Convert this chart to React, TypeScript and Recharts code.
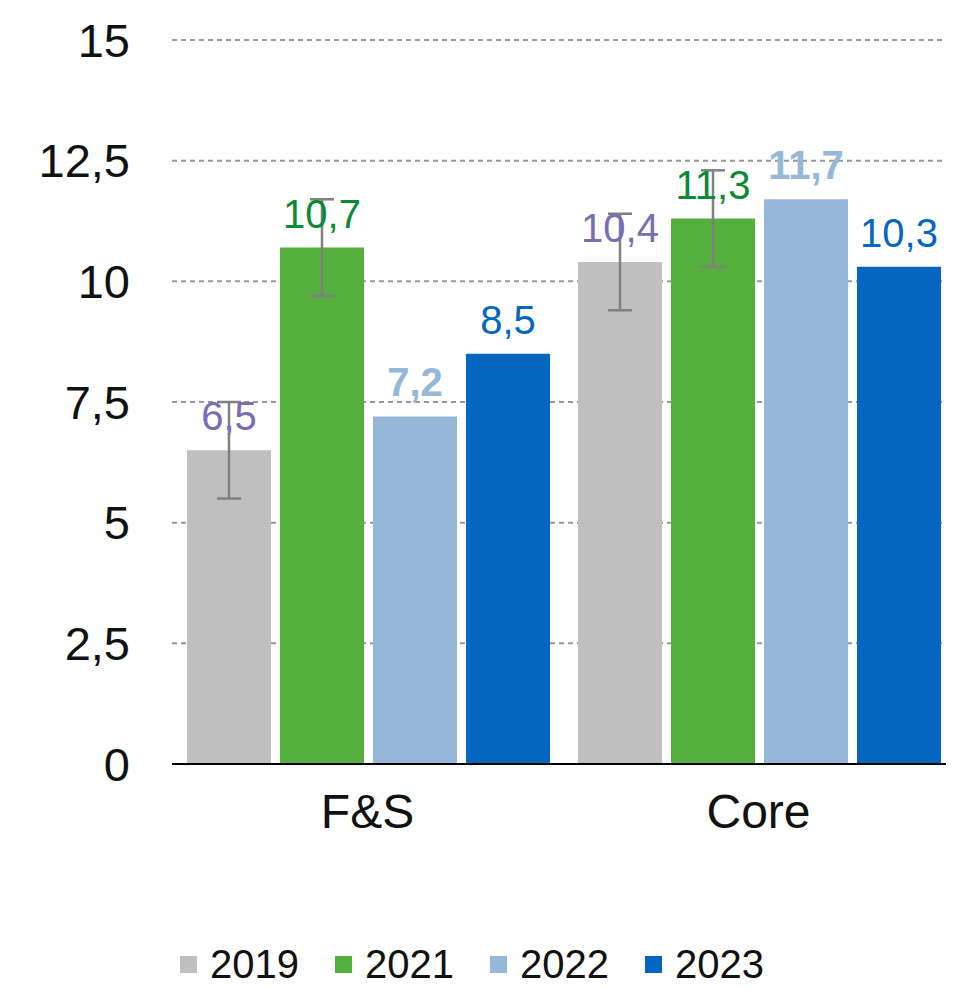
import React from 'react'
import {
  Bar,
  BarChart,
  CartesianGrid,
  ErrorBar,
  LabelList,
  Legend,
  XAxis,
  YAxis,
} from 'recharts'

const categories = ['F&S', 'Core']
const years = ['2019', '2021', '2022', '2023']
const values2019 = [6.5, 10.4]
const values2021 = [10.7, 11.3]
const values2022 = [7.2, 11.7]
const values2023 = [8.5, 10.3]
const err2019 = [1, 1]
const err2021 = [1, 1]
const yTicks = [0, 2.5, 5, 7.5, 10, 12.5, 15]

const barColors = ['#bfbfbf', '#54af3c', '#95b8d9', '#0566c1']
const labelColors = ['#7a6cb5', '#0b8a35', '#95b8d9', '#0566c1']

const chartData = categories.map((name, i) => ({
  name,
  y2019: values2019[i],
  y2021: values2021[i],
  y2022: values2022[i],
  y2023: values2023[i],
  e2019: err2019[i],
  e2021: err2021[i],
}))

const fmt = (v: number) => String(v).replace('.', ',')

const FONT = '"Liberation Sans", Arial, Helvetica, sans-serif'

const LegendContent = () => (
  <div
    style={{
      display: 'flex',
      alignItems: 'center',
      height: 48,
      lineHeight: '48px',
      paddingLeft: 172,
      fontFamily: FONT,
      fontSize: 40,
      color: '#111',
    }}
  >
    {years.map((y, i) => (
      <div key={y} style={{ display: 'flex', alignItems: 'center', marginRight: 36 }}>
        <span
          style={{
            display: 'inline-block',
            width: 17,
            height: 17,
            background: barColors[i],
            marginRight: 13,
          }}
        />
        <span>{y}</span>
      </div>
    ))}
  </div>
)

const App = () => {
  const keys = ['y2019', 'y2021', 'y2022', 'y2023']
  return (
    <div style={{ width: 946, height: 980, background: '#fff' }}>
      <BarChart
        width={946}
        height={980}
        data={chartData}
        margin={{ top: 32, right: 0, left: 0, bottom: 0 }}
        barCategoryGap={15}
        barGap={9}
      >
        <CartesianGrid
          vertical={false}
          stroke="#999"
          strokeWidth={2}
          strokeDasharray="5 4"
        />
        <XAxis
          dataKey="name"
          height={176}
          tickLine={false}
          tickSize={0}
          tickMargin={30}
          axisLine={{ stroke: '#000', strokeWidth: 2 }}
          tick={{ fill: '#111', fontSize: 48, fontFamily: FONT }}
        />
        <YAxis
          width={164}
          domain={[0, 15]}
          ticks={yTicks}
          interval={0}
          axisLine={false}
          tickLine={false}
          tickSize={0}
          tickMargin={42}
          tickFormatter={fmt}
          tick={{ fill: '#111', fontSize: 47, fontFamily: FONT }}
        />
        <Legend verticalAlign="bottom" height={48} content={<LegendContent />} />
        {keys.map((k, i) => (
          <Bar key={k} dataKey={k} name={years[i]} fill={barColors[i]} isAnimationActive={false}>
            {i === 0 && (
              <ErrorBar dataKey="e2019" width={12} stroke="#808080" strokeWidth={2.5} />
            )}
            {i === 1 && (
              <ErrorBar dataKey="e2021" width={12} stroke="#808080" strokeWidth={2.5} />
            )}
            <LabelList
              dataKey={k}
              position="top"
              offset={20}
              formatter={(v: any) => fmt(v)}
              style={{
                fill: labelColors[i],
                fontSize: 40,
                fontFamily: FONT,
                fontWeight: i === 2 ? 700 : 400,
              }}
            />
          </Bar>
        ))}
      </BarChart>
    </div>
  )
}

export default App
